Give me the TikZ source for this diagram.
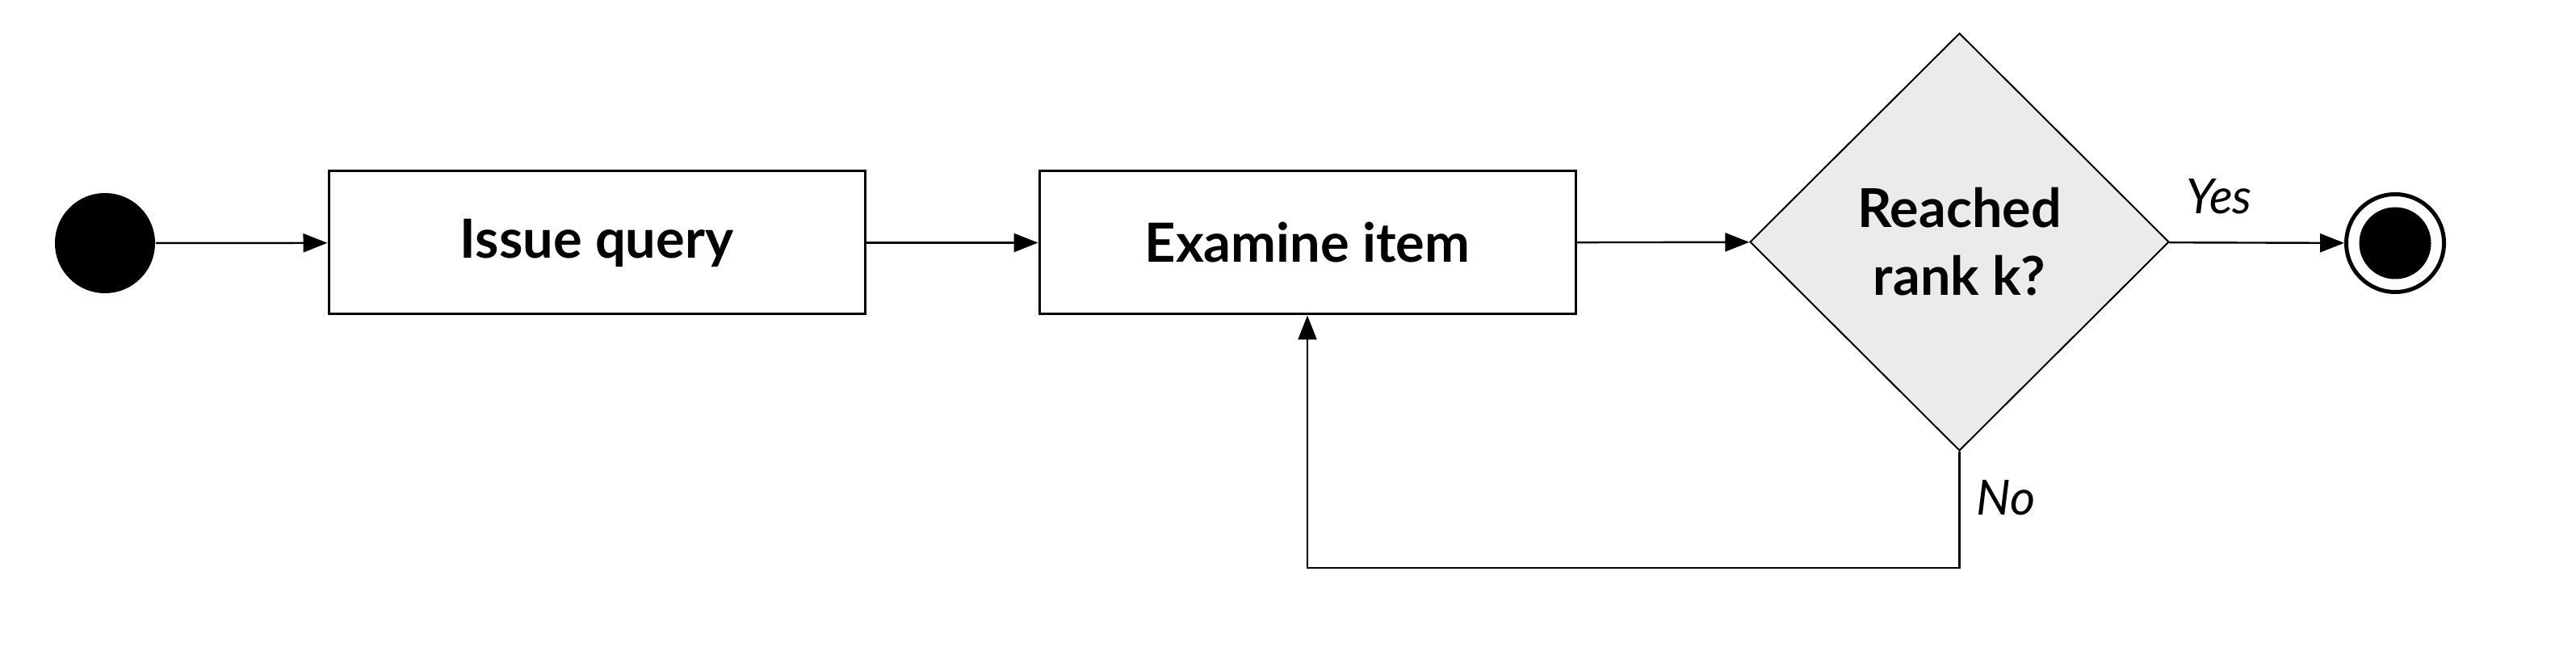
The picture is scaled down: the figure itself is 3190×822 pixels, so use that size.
\documentclass[tikz,border=0pt]{standalone}
\usepackage{fontspec}
\setmainfont{Lato}
\usetikzlibrary{shapes.geometric,arrows.meta}
\begin{document}
\begin{tikzpicture}[x=0.25pt,y=-0.25pt,
  box/.style={draw,line width=0.75pt,minimum width=166pt,minimum height=44.25pt,inner sep=0pt,
    font=\fontsize{16.7}{20}\selectfont\bfseries},
  decision/.style={diamond,draw,line width=0.5pt,fill=black!8,minimum width=129.75pt,minimum height=129.25pt,
    inner sep=0pt,align=center,font=\fontsize{16.6}{21}\selectfont\bfseries},
  startdot/.style={circle,fill=black,minimum size=31pt,inner sep=0pt},
  endouter/.style={circle,draw,line width=1.25pt,fill=white,minimum size=30.25pt,inner sep=0pt},
  endinner/.style={circle,fill=black,minimum size=22.25pt,inner sep=0pt},
  flow/.style={line width=0.6pt,-{Triangle[length=7.5pt,width=5.75pt]}},
  lbl/.style={font=\fontsize{15}{17}\selectfont\itshape,inner sep=0pt}]
\useasboundingbox (0,0) rectangle (3190,822);
\node[startdot] (start) at (130,301) {};
\node[box] (issue) at (739,300.5) {Issue query};
\node[box] (examine) at (1619,300.5) {Examine item};
\node[decision] (dec) at (2426.5,299.5) {Reached\\rank k?};
\node[endouter] (endo) at (2966,301) {};
\node[endinner] (endi) at (2966,301) {};
\draw[flow] (start) -- (issue);
\draw[flow] (issue) -- (examine);
\draw[flow] (examine) -- (dec);
\draw[flow] (dec) -- (endo);
\coordinate (loop) at (1619,703);
\draw[flow] (dec.south) |- (loop) -- (examine.south);
\node[lbl] (yes) at (2748,243) {Yes};
\node[lbl] (no) at (2484,616) {No};
\end{tikzpicture}
\end{document}
